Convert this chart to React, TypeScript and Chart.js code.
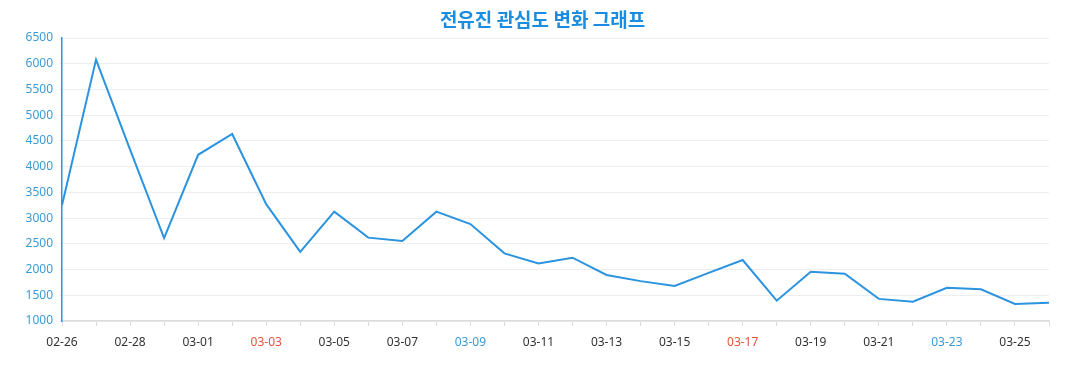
import React, { useEffect, useRef } from "react";
import { Chart, registerables } from "chart.js";

Chart.register(...registerables);

const categories: string[] = [
  "02-26", "02-27", "02-28", "02-29", "03-01", "03-02", "03-03", "03-04", "03-05", "03-06",
  "03-07", "03-08", "03-09", "03-10", "03-11", "03-12", "03-13", "03-14", "03-15", "03-16",
  "03-17", "03-18", "03-19", "03-20", "03-21", "03-22", "03-23", "03-24", "03-25", "03-26",
];

const interestValues: number[] = [
  3250, 6080, 4330, 2610, 4230, 4635, 3270, 2345, 3125, 2620,
  2555, 3125, 2885, 2315, 2120, 2230, 1895, 1775, 1680, 1935,
  2185, 1395, 1955, 1920, 1430, 1375, 1645, 1615, 1330, 1355,
];

const redLabels: string[] = ["03-03", "03-17"];
const blueLabels: string[] = ["03-09", "03-23"];

const titleText = "전유진 관심도 변화 그래프";

const titlePlugin = {
  id: "centeredTitle",
  afterDraw(chart: any) {
    const ctx = chart.ctx;
    ctx.save();
    ctx.font = "bold 19px 'Noto Sans CJK KR', 'Noto Sans', sans-serif";
    ctx.fillStyle = "#1a8de2";
    ctx.textAlign = "center";
    ctx.textBaseline = "middle";
    ctx.fillText(titleText, chart.width / 2 + 4, 20);
    ctx.restore();
  },
};

export default function App() {
  const canvasRef = useRef<HTMLCanvasElement | null>(null);

  useEffect(() => {
    document.body.style.margin = "0";
    const canvas = canvasRef.current;
    if (!canvas) return;
    const chart = new Chart(canvas, {
      type: "line",
      data: {
        labels: categories,
        datasets: [
          {
            label: "관심도",
            data: interestValues,
            borderColor: "#2b93df",
            borderWidth: 2,
            pointRadius: 0,
            tension: 0,
            fill: false,
          },
        ],
      },
      plugins: [titlePlugin],
      options: {
        animation: false,
        responsive: false,
        maintainAspectRatio: false,
        layout: { padding: { left: 0, right: 28, top: 38, bottom: 0 } },
        plugins: {
          legend: { display: false },
          tooltip: { enabled: false },
          title: { display: false },
        },
        scales: {
          x: {
            type: "category",
            offset: false,
            grid: {
              display: true,
              drawOnChartArea: false,
              drawTicks: true,
              tickLength: 5,
              color: "#dcdcdc",
            },
            border: { display: true, color: "#dcdcdc", width: 1.5 },
            ticks: {
              autoSkip: false,
              maxRotation: 0,
              minRotation: 0,
              padding: 9,
              font: { family: "'Noto Sans', sans-serif", size: 12 },
              color: (ctx: any) => {
                const lab = categories[ctx.index];
                if (redLabels.includes(lab)) return "#e4533c";
                if (blueLabels.includes(lab)) return "#3a9bd6";
                return "#333333";
              },
              callback: (_v: any, i: number) => (i % 2 === 0 ? categories[i] : ""),
            },
            afterFit: (scale: any) => {
              scale.height = 69;
            },
          },
          y: {
            min: 1000,
            max: 6500,
            grid: {
              color: "#eeeeee",
              drawTicks: true,
              tickLength: 3,
            },
            border: { display: true, color: "#2b93df", width: 1.5 },
            ticks: {
              stepSize: 500,
              padding: 6,
              color: "#3a9bd6",
              font: { family: "'Noto Sans', sans-serif", size: 12 },
              callback: (v: any) => String(v),
            },
            afterFit: (scale: any) => {
              scale.width = 62;
            },
          },
        },
      },
    });
    return () => chart.destroy();
  }, []);

  return (
    <div style={{ width: 1077, height: 390 }}>
      <canvas ref={canvasRef} width={1077} height={390} style={{ width: 1077, height: 390 }} />
    </div>
  );
}
